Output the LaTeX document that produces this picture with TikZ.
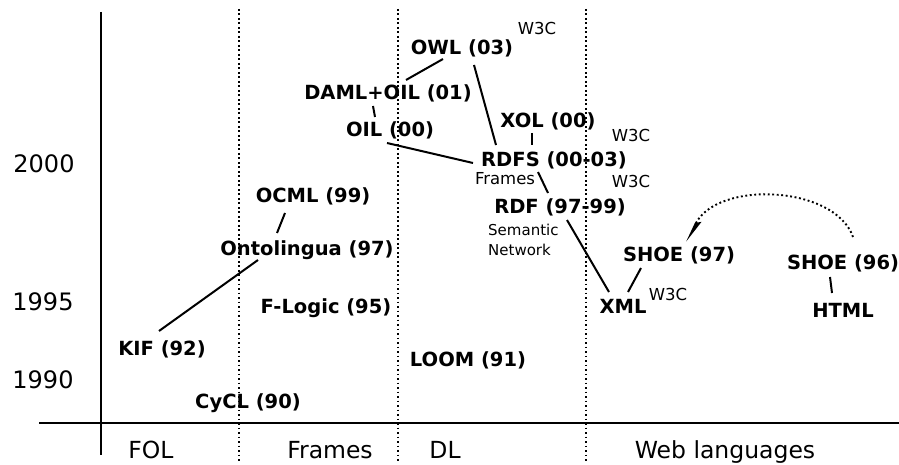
\documentclass[tikz,border=0pt]{standalone}
\usepackage{fontspec}
\setmainfont{DejaVu Sans}
\usetikzlibrary{arrows.meta}
\tikzset{
  lang/.style={font=\fontsize{19.5}{22}\selectfont\bfseries, anchor=base, inner sep=0pt},
  year/.style={font=\fontsize{24}{26}\selectfont, anchor=base, inner sep=0pt},
  area/.style={font=\fontsize{23.5}{26}\selectfont, anchor=base, inner sep=0pt},
  note/.style={font=\fontsize{16.5}{18}\selectfont, anchor=base, inner sep=0pt},
  small/.style={font=\fontsize{15}{18}\selectfont, anchor=base, inner sep=0pt},
  axis/.style={line width=2pt},
  divider/.style={line width=1.9pt, dash pattern=on 1.9pt off 2.6pt},
  link/.style={line width=2pt},
}
\begin{document}
\begin{tikzpicture}[x=1pt, y=-1pt]
\useasboundingbox (0,0) rectangle (899,465);

% axes
\draw[axis] (39,423) -- (899,423);
\draw[axis] (101,12) -- (101,455);

% column separators
\draw[divider] (239,9) -- (239,463);
\draw[divider] (398,9) -- (398,463);
\draw[divider] (586,9) -- (586,463);

% year marks
\node[year] (y2000) at (44,173) {2000};
\node[year] (y1995) at (43,310) {1995};
\node[year] (y1990) at (43,388) {1990};

% columns
\node[area] (fol) at (151,458) {FOL};
\node[area] (frm) at (330,458) {Frames};
\node[area] (dl) at (445,458) {DL};
\node[area] (web) at (725,458) {Web languages};

% languages
\node[lang] (kif) at (162,355) {KIF (92)};
\node[lang] (cycl) at (248,408) {CyCL (90)};
\node[lang] (ocml) at (313,203) {OCML (99)};
\node[lang] (onto) at (307,255) {Ontolingua (97)};
\node[lang] (flogic) at (326,313) {F-Logic (95)};
\node[lang] (loom) at (468,366) {LOOM (91)};
\node[lang] (owl) at (462,55) {OWL (03)};
\node[lang] (daml) at (388,100) {DAML+OIL (01)};
\node[lang] (oil) at (390,137) {OIL (00)};
\node[lang] (xol) at (548,128) {XOL (00)};
\node[lang] (rdfs) at (554,167) {RDFS (00-03)};
\node[lang] (rdf) at (560,213) {RDF (97-99)};
\node[lang] (shoeA) at (679,261) {SHOE (97)};
\node[lang] (xml) at (623,313) {XML};
\node[lang] (shoeB) at (843,269) {SHOE (96)};
\node[lang] (html) at (843,317) {HTML};

% small notes
\node[note] (w3owl) at (537,35) {W3C};
\node[note] (w3rdfs) at (631,142) {W3C};
\node[note] (w3rdf) at (631,188) {W3C};
\node[note] (w3xml) at (668,300) {W3C};
\node[note] (frnote) at (505,185) {Frames};
\node[small, anchor=base west] (sem) at (488,235) {Semantic};
\node[small, anchor=base west] (net) at (488,255) {Network};

% derivations
\draw[link] ([shift={(-3,-24)}]kif.base) -- ([shift={(-49,5)}]onto.base);
\draw[link] ([shift={(-28,10)}]ocml.base) -- ([shift={(-30,-22)}]onto.base);
\draw[link] ([shift={(-19,4)}]owl.base) -- ([shift={(18,-20)}]daml.base);
\draw[link] ([shift={(12,10)}]owl.base) -- ([shift={(-58,-22)}]rdfs.base);
\draw[link] ([shift={(-15,6)}]daml.base) -- ([shift={(-15,-20)}]oil.base);
\draw[link] ([shift={(-3,6)}]oil.base) -- ([shift={(-81,-4)}]rdfs.base);
\draw[link] ([shift={(-16,5)}]xol.base) -- ([shift={(-22,-22)}]rdfs.base);
\draw[link] ([shift={(-16,5)}]rdfs.base) -- ([shift={(-12,-20)}]rdf.base);
\draw[link] ([shift={(7,7)}]rdf.base) -- ([shift={(-14,-21)}]xml.base);
\draw[link] ([shift={(-38,7)}]shoeA.base) -- ([shift={(5,-21)}]xml.base);
\draw[link] ([shift={(-13,8)}]shoeB.base) -- ([shift={(-11,-24)}]html.base);

% SHOE (96) evolves into SHOE (97)
\draw[divider, -{Stealth[length=20pt, width=9pt, inset=3pt, left]}]
  ([shift={(10,-32)}]shoeB.base) .. controls (835,185) and (716,180) .. ([shift={(8,-19)}]shoeA.base);
\end{tikzpicture}
\end{document}
